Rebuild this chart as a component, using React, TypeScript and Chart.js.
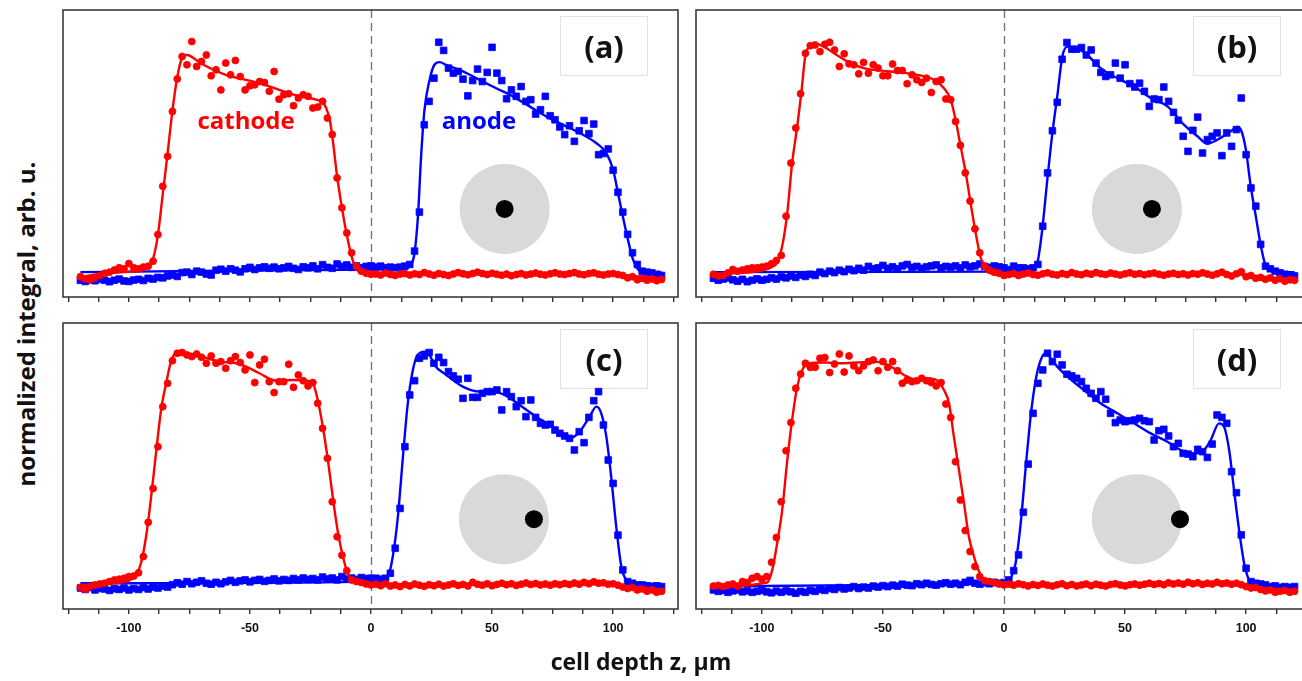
import React, { useEffect, useRef } from "react";
import { Chart, registerables } from "chart.js";
Chart.register(...registerables);

// ---------- data ----------
const Z = [
  -120, -118, -116, -114, -112, -110, -108, -106, -104, -102, -100, -98, -96, -94, -92, -90, -88, -86, -84, -82,
  -80, -78, -76, -74, -72, -70, -68, -66, -64, -62, -60, -58, -56, -54, -52, -50, -48, -46, -44, -42,
  -40, -38, -36, -34, -32, -30, -28, -26, -24, -22, -20, -18, -16, -14, -12, -10, -8, -6, -4, -2,
  0, 2, 4, 6, 8, 10, 12, 14, 16, 18, 20, 22, 24, 26, 28, 30, 32, 34, 36, 38,
  40, 42, 44, 46, 48, 50, 52, 54, 56, 58, 60, 62, 64, 66, 68, 70, 72, 74, 76, 78,
  80, 82, 84, 86, 88, 90, 92, 94, 96, 98, 100, 102, 104, 106, 108, 110, 112, 114, 116, 118, 120,
];

const X_TICKS = [-125, -112.5, -100, -87.5, -75, -62.5, -50, -37.5, -25, -12.5, 0, 12.5, 25, 37.5, 50, 62.5, 75, 87.5, 100, 112.5, 125];
const X_TICK_LABELS = [-100, -50, 0, 50, 100];
const PANEL_LABELS = ["(a)", "(b)", "(c)", "(d)"];

// panel (a)
const CATHODE_A = [
  -0.015, -0.024, -0.029, -0.019, -0.01, -0.001, 0.004, 0.013, 0.022, 0.018,
  0.04, 0.022, 0.018, 0.025, 0.029, 0.05, 0.161, 0.363, 0.488, 0.676,
  0.812, 0.906, 0.871, 0.968, 0.864, 0.885, 0.912, 0.825, 0.85, 0.766,
  0.878, 0.829, 0.889, 0.822, 0.766, 0.783, 0.787, 0.801, 0.797, 0.76,
  0.843, 0.727, 0.746, 0.75, 0.7, 0.732, 0.746, 0.739, 0.69, 0.694,
  0.718, 0.648, 0.579, 0.398, 0.273, 0.168, 0.085, 0.029, 0.008, -0.001,
  -0.005,
  -0.004, -0.008, 0.0, -0.006, -0.01, -0.004, -0.002, -0.008, -0.003, -0.006,
  0.002, -0.004, -0.009, -0.002, -0.006, -0.01, -0.004, 0.002, -0.003, -0.007,
  -0.002, 0.004, -0.002, -0.006, -0.001, -0.005, -0.009, -0.004, -0.011, -0.006,
  -0.002, -0.008, -0.004, 0.0, -0.005, -0.008, -0.003, 0.001, -0.004, -0.006,
  -0.002, 0.002, -0.004, -0.007, -0.002, 0.001, -0.005, -0.008, -0.004, -0.002,
  -0.006, -0.01, -0.02, -0.015, -0.028, -0.022, -0.03, -0.025, -0.032, -0.027,
];
const ANODE_A = [
  -0.03, -0.035, -0.028, -0.032, -0.026, -0.03, -0.036, -0.03, -0.025, -0.033,
  -0.035, -0.029, -0.026, -0.031, -0.022, -0.025, -0.018, -0.02, -0.012, -0.008,
  -0.014, 0.002, 0.004, -0.006, 0.008, 0.004, -0.004, -0.008, 0.012, 0.016,
  0.008, 0.018, 0.012, 0.005, 0.018, 0.024, 0.015, 0.022, 0.026, 0.02,
  0.025, 0.018, 0.022, 0.028, 0.02, 0.015, 0.026, 0.022, 0.03, 0.018,
  0.035, 0.024, 0.02, 0.038, 0.028, 0.034, 0.024, 0.03, 0.022, 0.028,
  0.03, 0.025,
  0.029, 0.022, 0.025, 0.022, 0.025, 0.029, 0.036, 0.092, 0.255, 0.62,
  0.718, 0.815, 0.965, 0.931, 0.857, 0.836, 0.843, 0.811, 0.741, 0.805,
  0.853, 0.801, 0.839, 0.944, 0.836, 0.805, 0.729, 0.766, 0.739, 0.78,
  0.718, 0.725, 0.665, 0.683, 0.739, 0.658, 0.641, 0.611, 0.579, 0.616,
  0.551, 0.595, 0.638, 0.583, 0.623, 0.495, 0.5, 0.519, 0.43, 0.338,
  0.255, 0.162, 0.085, 0.036, 0.008, 0.004, 0.001, -0.005, -0.01,
];
const FIT_CATHODE_A = [
  [-120, -0.015], [-110, -0.002], [-100, 0.005], [-95, 0.01], [-92, 0.025], [-90, 0.06], [-88, 0.16],
  [-86, 0.33], [-84, 0.5], [-82, 0.68], [-80, 0.82], [-78, 0.9], [-76, 0.912], [-70, 0.875], [-60, 0.829],
  [-46, 0.794], [-32, 0.746], [-22.6, 0.725], [-20, 0.715], [-18.5, 0.69], [-17, 0.64], [-15.8, 0.558],
  [-14, 0.405], [-12, 0.273], [-10, 0.16], [-8, 0.07], [-6, 0.015], [-4, 0.0], [0, -0.005], [50, -0.004],
  [100, -0.005], [108, -0.012], [120, -0.022],
];
const FIT_ANODE_A = [
  [-120, 0.004], [-60, 0.01], [0, 0.015], [14, 0.02], [16.6, 0.036], [18, 0.085], [19.4, 0.238], [20.7, 0.488],
  [22.1, 0.683], [24.2, 0.808], [26.2, 0.871], [28.3, 0.882], [31, 0.871], [38, 0.843], [44.8, 0.808],
  [51.7, 0.773], [58.6, 0.739], [65.5, 0.697], [72.4, 0.655], [79.3, 0.62], [86.2, 0.586], [93, 0.544],
  [97.2, 0.502], [100, 0.433], [102, 0.335], [104, 0.238], [106.1, 0.141], [108.2, 0.057], [110.3, 0.015],
  [112.3, 0.004], [120, 0.004],
];

// panel (b)
const CATHODE_B = [
  -0.005, -0.012, -0.01, 0.001, 0.015, 0.008, 0.013, 0.018, 0.022, 0.022,
  0.025, 0.029, 0.039, 0.053, 0.074, 0.238, 0.46, 0.607, 0.75, 0.919,
  0.951, 0.954, 0.926, 0.957, 0.965, 0.933, 0.864, 0.917, 0.875, 0.871,
  0.833, 0.881, 0.836, 0.871, 0.857, 0.825, 0.825, 0.874, 0.847, 0.847,
  0.792, 0.829, 0.808, 0.797, 0.815, 0.755, 0.801, 0.808, 0.728, 0.725,
  0.634, 0.534, 0.419, 0.301, 0.185, 0.085, 0.029, 0.013, 0.004, -0.001,
  -0.01,
  -0.006, -0.002, -0.01, -0.004, 0.0, -0.006, -0.009, -0.003, 0.001, -0.005,
  -0.008, -0.002, -0.006, 0.002, -0.004, -0.007, -0.001, -0.005, 0.002, -0.003,
  -0.006, 0.0, -0.004, -0.008, -0.003, 0.001, -0.005, -0.002, -0.007, -0.003,
  0.0, -0.005, -0.009, -0.004, -0.001, -0.006, -0.003, -0.008, -0.002, -0.005,
  0.001, -0.004, -0.009, -0.003, 0.004, -0.006, -0.012, -0.003, 0.006, -0.015,
  -0.01, -0.022, -0.018, -0.026, -0.02, -0.03, -0.024, -0.034, -0.028, -0.03,
];
const ANODE_B = [
  -0.022, -0.03, -0.025, -0.02, -0.028, -0.034, -0.026, -0.036, -0.03, -0.024,
  -0.03, -0.026, -0.02, -0.025, -0.016, -0.02, -0.012, -0.018, -0.008, -0.014,
  -0.005, -0.01, 0.004, -0.002, 0.008, 0.002, 0.012, 0.006, 0.016, 0.01,
  0.02, 0.012, 0.028, 0.018, 0.022, 0.032, 0.02, 0.026, 0.018, 0.03,
  0.036, 0.024, 0.028, 0.02, 0.026, 0.03, 0.034, 0.022, 0.028, 0.025,
  0.03, 0.022, 0.034, 0.026, 0.03, 0.038, 0.028, 0.024, 0.03, 0.026,
  0.022, 0.015, 0.029, 0.022, 0.022, 0.018, 0.022, 0.036, 0.196, 0.419,
  0.595, 0.714, 0.894, 0.964, 0.936, 0.936, 0.943, 0.912, 0.933, 0.878,
  0.839, 0.822, 0.829, 0.878, 0.815, 0.871, 0.792, 0.778, 0.794, 0.76,
  0.697, 0.728, 0.725, 0.778, 0.718, 0.672, 0.639, 0.572, 0.509, 0.597,
  0.652, 0.502, 0.558, 0.572, 0.586, 0.491, 0.586, 0.53, 0.6, 0.732,
  0.495, 0.356, 0.28, 0.12, 0.029, 0.018, 0.008, 0.001, -0.005, -0.01,
  -0.012,
];
const FIT_CATHODE_B = [
  [-120, -0.005], [-100, 0.01], [-96, 0.025], [-93.7, 0.043], [-91.6, 0.113], [-89.5, 0.252], [-87.5, 0.46],
  [-85.4, 0.613], [-83.7, 0.753], [-82, 0.912], [-80, 0.947], [-77.1, 0.957], [-74.4, 0.947], [-70.2, 0.919],
  [-64.7, 0.885], [-57.9, 0.857], [-46.8, 0.843], [-35.8, 0.829], [-28.9, 0.808], [-24.8, 0.773], [-22, 0.725],
  [-20, 0.641], [-17.9, 0.53], [-15.8, 0.419], [-13.8, 0.294], [-11.7, 0.168], [-9.6, 0.064], [-7.6, 0.015],
  [-5.5, -0.001], [0, -0.008], [60, -0.004], [98, -0.006], [108, -0.02], [120, -0.028],
];
const FIT_ANODE_B = [
  [-120, 0.004], [0, 0.006], [11.7, 0.015], [13.8, 0.043], [15.8, 0.182], [17.9, 0.391], [20, 0.586], [22, 0.739],
  [24.1, 0.906], [26.2, 0.947], [30.3, 0.94], [34.4, 0.912], [39.9, 0.857], [46.8, 0.815], [53.7, 0.78],
  [60.6, 0.732], [67.5, 0.697], [74.4, 0.62], [79.9, 0.572], [84, 0.541], [88.2, 0.558], [93.7, 0.593],
  [96.4, 0.611], [98.1, 0.593], [99.9, 0.516], [101.9, 0.363], [104, 0.238], [106.1, 0.113], [108.1, 0.029],
  [110.2, 0.008], [120, 0.004],
];

// panel (c)
const CATHODE_C = [
  -0.009, -0.017, -0.006, 0.001, 0.005, 0.008, 0.015, 0.022, 0.025, 0.029,
  0.036, 0.038, 0.052, 0.12, 0.264, 0.406, 0.581, 0.749, 0.847, 0.942,
  0.973, 0.976, 0.966, 0.959, 0.97, 0.956, 0.931, 0.962, 0.931, 0.938,
  0.91, 0.942, 0.959, 0.934, 0.903, 0.966, 0.85, 0.924, 0.948, 0.854,
  0.808, 0.854, 0.854, 0.927, 0.83, 0.882, 0.858, 0.836, 0.85, 0.763,
  0.658, 0.532, 0.35, 0.203, 0.126, 0.061, 0.022, 0.015, 0.011, 0.005,
  0.001,
  0.004, -0.002, 0.006, -0.004, 0.001, -0.006, 0.003, -0.003, 0.005, 0.0,
  -0.005, 0.002, -0.002, 0.004, -0.004, 0.001, 0.006, -0.001, 0.003, -0.003,
  0.012, 0.004, 0.0, 0.006, -0.002, 0.003, 0.008, 0.002, 0.006, -0.001,
  0.004, 0.009, 0.003, 0.007, 0.001, 0.005, 0.0, 0.006, 0.002, 0.007,
  0.003, 0.009, 0.004, 0.012, 0.006, 0.014, 0.008, 0.01, 0.004, 0.006,
  0.0, -0.008, -0.014, -0.01, -0.02, -0.016, -0.025, -0.02, -0.03, -0.026,
];
const ANODE_C = [
  -0.012, -0.018, -0.01, -0.02, -0.014, -0.016, -0.022, -0.015, -0.018, -0.012,
  -0.02, -0.014, -0.018, -0.01, -0.016, -0.008, -0.012, -0.004, -0.008, 0.002,
  0.01, 0.004, 0.015, 0.006, 0.012, 0.018, 0.008, 0.004, 0.012, 0.006,
  0.014, 0.02, 0.012, 0.018, 0.022, 0.014, 0.02, 0.024, 0.016, 0.02,
  0.026, 0.018, 0.024, 0.02, 0.028, 0.022, 0.03, 0.024, 0.028, 0.022,
  0.034, 0.026, 0.03, 0.022, 0.036, 0.026, 0.03, 0.024, 0.032, 0.028,
  0.029, 0.029, 0.025, 0.029, 0.05, 0.155, 0.322, 0.581, 0.798, 0.858,
  0.952, 0.962, 0.976, 0.931, 0.956, 0.934, 0.896, 0.878, 0.864, 0.784,
  0.868, 0.788, 0.788, 0.805, 0.812, 0.812, 0.819, 0.735, 0.812, 0.791,
  0.749, 0.774, 0.707, 0.777, 0.704, 0.679, 0.672, 0.675, 0.651, 0.637,
  0.626, 0.616, 0.567, 0.644, 0.598, 0.704, 0.774, 0.812, 0.672, 0.525,
  0.427, 0.21, 0.064, 0.015, 0.008, 0.001, 0.001, -0.003, -0.006, -0.003,
  -0.006,
];
const FIT_CATHODE_C = [
  [-120, 0.001], [-101.2, 0.015], [-97, 0.043], [-95, 0.092], [-92.9, 0.203], [-90.8, 0.371], [-88.8, 0.553],
  [-86.7, 0.735], [-84.6, 0.847], [-82.6, 0.938], [-80.5, 0.973], [-76.4, 0.973], [-70.9, 0.962], [-62.6, 0.938],
  [-55.7, 0.931], [-51.6, 0.917], [-46.1, 0.889], [-39.2, 0.858], [-32.3, 0.861], [-26.8, 0.858], [-24, 0.847],
  [-22, 0.777], [-19.9, 0.665], [-17.8, 0.525], [-15.8, 0.371], [-13.7, 0.224], [-11.6, 0.12], [-9.6, 0.05],
  [-7.5, 0.019], [-4.8, 0.008], [0, 0.001], [60, 0.004], [100, 0.005], [106, -0.005], [120, -0.018],
];
const FIT_ANODE_C = [
  [-120, 0.008], [0, 0.015], [3.5, 0.019], [7, 0.036], [9, 0.12], [11.1, 0.287], [13.2, 0.539], [15.2, 0.763],
  [17.3, 0.903], [19.3, 0.966], [22.1, 0.98], [24.2, 0.966], [26.2, 0.924], [31.1, 0.882], [37.9, 0.833],
  [44.8, 0.812], [50.3, 0.812], [55.9, 0.794], [61.4, 0.756], [68.2, 0.707], [75.1, 0.665], [82, 0.616],
  [86.2, 0.644], [90.3, 0.707], [93.1, 0.749], [95.1, 0.721], [97.2, 0.623], [99.2, 0.455], [101.3, 0.245],
  [103.4, 0.078], [105.4, 0.022], [108.2, 0.008], [120, 0.005],
];

// panel (d)
const CATHODE_D = [
  -0.004, -0.001, -0.006, 0.001, 0.005, -0.004, 0.015, 0.011, 0.029, 0.036,
  0.025, 0.036, 0.096, 0.2, 0.35, 0.564, 0.682, 0.826, 0.886, 0.931,
  0.914, 0.914, 0.952, 0.955, 0.892, 0.928, 0.97, 0.894, 0.962, 0.92,
  0.9, 0.92, 0.938, 0.945, 0.9, 0.938, 0.914, 0.938, 0.9, 0.847,
  0.861, 0.854, 0.858, 0.868, 0.858, 0.85, 0.836, 0.85, 0.76, 0.704,
  0.518, 0.357, 0.229, 0.141, 0.078, 0.036, 0.019, 0.015, 0.011, 0.005,
  0.001,
  0.004, 0.0, 0.006, 0.002, -0.003, 0.003, -0.001, 0.005, 0.0, -0.004,
  0.002, 0.006, -0.002, 0.003, -0.003, 0.001, 0.005, -0.002, 0.004, 0.0,
  -0.004, 0.003, 0.006, 0.001, -0.003, 0.002, 0.005, 0.0, 0.004, 0.008,
  0.003, 0.007, 0.002, 0.01, 0.005, 0.009, 0.004, 0.012, 0.006, 0.01,
  0.003, 0.008, 0.005, 0.012, 0.006, 0.009, 0.004, 0.008, 0.002, -0.006,
  -0.012, -0.01, -0.018, -0.024, -0.02, -0.03, -0.026, -0.022, -0.03, -0.026,
];
const ANODE_D = [
  -0.02, -0.026, -0.022, -0.03, -0.024, -0.02, -0.028, -0.024, -0.03, -0.026,
  -0.022, -0.028, -0.032, -0.025, -0.03, -0.024, -0.028, -0.034, -0.026, -0.03,
  -0.022, -0.026, -0.018, -0.022, -0.014, -0.018, -0.01, -0.016, -0.012, -0.006,
  -0.014, -0.008, -0.012, -0.004, -0.008, -0.002, -0.006, 0.0, -0.004, 0.004,
  0.0, -0.002, 0.006, 0.002, 0.008, 0.003, 0.0, 0.006, 0.01, 0.004,
  0.008, 0.002, 0.012, 0.02, 0.008, 0.004, 0.01, 0.006, 0.012, 0.008,
  0.011, 0.022, 0.061, 0.127, 0.306, 0.508, 0.721, 0.847, 0.903, 0.973,
  0.938, 0.969, 0.924, 0.885, 0.878, 0.868, 0.854, 0.826, 0.805, 0.784,
  0.812, 0.78, 0.721, 0.682, 0.693, 0.686, 0.69, 0.693, 0.7, 0.69,
  0.686, 0.609, 0.648, 0.654, 0.626, 0.581, 0.595, 0.553, 0.55, 0.539,
  0.57, 0.56, 0.536, 0.592, 0.714, 0.704, 0.679, 0.476, 0.388, 0.211,
  0.071, 0.015, 0.008, 0.005, 0.001, -0.006, -0.003, -0.009, -0.006, -0.009,
  -0.006,
];
const FIT_CATHODE_D = [
  [-120, -0.006], [-97.8, 0.011], [-95.7, 0.064], [-93.7, 0.175], [-91.6, 0.315], [-89.5, 0.525], [-87.5, 0.693],
  [-85.4, 0.833], [-83.3, 0.903], [-81.3, 0.928], [-74.4, 0.934], [-67.5, 0.931], [-60.6, 0.934], [-53.7, 0.938],
  [-49.6, 0.931], [-45.5, 0.91], [-41.3, 0.882], [-35.8, 0.861], [-31.7, 0.868], [-27.5, 0.858], [-24.8, 0.819],
  [-22.7, 0.763], [-20.7, 0.623], [-18.6, 0.483], [-16.5, 0.343], [-14.5, 0.203], [-12.4, 0.12], [-10.3, 0.057],
  [-8.3, 0.022], [-5.5, 0.008], [0, 0.001], [60, 0.004], [98, 0.004], [104, -0.01], [120, -0.02],
];
const FIT_ANODE_D = [
  [-120, -0.006], [-60, 0.0], [0, 0.008], [2.8, 0.029], [4.8, 0.092], [6.9, 0.259], [9, 0.497], [11, 0.707],
  [13.1, 0.861], [15.2, 0.945], [17.2, 0.973], [19.3, 0.952], [22, 0.917], [26.2, 0.875], [33, 0.819],
  [39.9, 0.763], [46.8, 0.721], [53.7, 0.679], [60.6, 0.637], [67.5, 0.602], [73, 0.567], [78.5, 0.553],
  [82.6, 0.567], [85.4, 0.609], [88.8, 0.679], [90.9, 0.665], [93, 0.567], [95, 0.4], [97.1, 0.231],
  [99.2, 0.091], [101.2, 0.022], [103.3, 0.001], [120, -0.003],
];

// inset sketch: cell centre and electrode position (data units)
const INSET_CELL_X = [55.2, 54.9, 54.9, 54.9];
const INSET_ELECTRODE_X = [55.2, 61.1, 67.3, 72.7];
const INSET_Y = [0.268, 0.268, 0.277, 0.277];

// ---------- styling / layout ----------
const RED = "#ff0000";
const BLUE = "#0000ff";
const X_MIN = -127.2;
const X_MAX = 126.8;
const PAD_L = 10;
const PAD_R = 10;
const PAD_T = 6;

type Spec = {
  idx: number;
  left: number;
  top: number;
  areaW: number;
  areaH: number;
  axisH: number;
  showLabels: boolean;
  cathode: number[];
  anode: number[];
  fitCathode: number[][];
  fitAnode: number[][];
  texts: { text: string; x: number; y: number; color: string }[];
};

const SPECS: Spec[] = [
  {
    idx: 0, left: 63, top: 10, areaW: 615, areaH: 287, axisH: 14, showLabels: false,
    cathode: CATHODE_A, anode: ANODE_A, fitCathode: FIT_CATHODE_A, fitAnode: FIT_ANODE_A,
    texts: [
      { text: "cathode", x: -51.6, y: 0.632, color: RED },
      { text: "anode", x: 44.6, y: 0.63, color: BLUE },
    ],
  },
  {
    idx: 1, left: 696, top: 10, areaW: 615, areaH: 287, axisH: 14, showLabels: false,
    cathode: CATHODE_B, anode: ANODE_B, fitCathode: FIT_CATHODE_B, fitAnode: FIT_ANODE_B, texts: [],
  },
  {
    idx: 2, left: 63, top: 323, areaW: 615, areaH: 286, axisH: 40, showLabels: true,
    cathode: CATHODE_C, anode: ANODE_C, fitCathode: FIT_CATHODE_C, fitAnode: FIT_ANODE_C, texts: [],
  },
  {
    idx: 3, left: 696, top: 323, areaW: 615, areaH: 286, axisH: 40, showLabels: true,
    cathode: CATHODE_D, anode: ANODE_D, fitCathode: FIT_CATHODE_D, fitAnode: FIT_ANODE_D, texts: [],
  },
];

function decorPlugin(spec: Spec) {
  return {
    id: "decor" + spec.idx,
    beforeDatasetsDraw(chart: any) {
      const { ctx, chartArea } = chart;
      const xs = chart.scales.x;
      const ys = chart.scales.y;
      ctx.save();
      // zero line
      const zx = Math.round(xs.getPixelForValue(0)) + 0.5;
      ctx.strokeStyle = "#6e6e6e";
      ctx.lineWidth = 1.3;
      ctx.setLineDash([8, 5]);
      ctx.beginPath();
      ctx.moveTo(zx, chartArea.top);
      ctx.lineTo(zx, chartArea.bottom);
      ctx.stroke();
      ctx.setLineDash([]);
      // inset sketch
      const cx = xs.getPixelForValue(INSET_CELL_X[spec.idx]);
      const cy = ys.getPixelForValue(INSET_Y[spec.idx]);
      ctx.fillStyle = "#d9d9d9";
      ctx.beginPath();
      ctx.arc(cx, cy, 45, 0, Math.PI * 2);
      ctx.fill();
      const ex = xs.getPixelForValue(INSET_ELECTRODE_X[spec.idx]);
      ctx.fillStyle = "#000";
      ctx.beginPath();
      ctx.arc(ex, cy, 9, 0, Math.PI * 2);
      ctx.fill();
      // label box
      const bx0 = Math.round(xs.getPixelForValue(78)) + 0.5;
      const bx1 = Math.round(xs.getPixelForValue(114)) + 0.5;
      const by0 = Math.round(ys.getPixelForValue(1.074)) + 0.5;
      const by1 = Math.round(ys.getPixelForValue(0.828)) + 0.5;
      ctx.fillStyle = "#fff";
      ctx.fillRect(bx0, by0, bx1 - bx0, by1 - by0);
      ctx.strokeStyle = "#e2e2e2";
      ctx.lineWidth = 1;
      ctx.strokeRect(bx0, by0, bx1 - bx0, by1 - by0);
      ctx.fillStyle = "#111";
      ctx.font = '700 31px "Open Sans"';
      ctx.textAlign = "center";
      ctx.textBaseline = "middle";
      ctx.fillText(PANEL_LABELS[spec.idx], (bx0 + bx1) / 2, (by0 + by1) / 2 + 3);
      // series names
      ctx.font = '700 24px "Open Sans"';
      for (const t of spec.texts) {
        ctx.fillStyle = t.color;
        ctx.fillText(t.text, xs.getPixelForValue(t.x), ys.getPixelForValue(t.y));
      }
      ctx.restore();
    },
    afterDraw(chart: any) {
      const { ctx, chartArea } = chart;
      ctx.save();
      ctx.strokeStyle = "#3a3a3a";
      ctx.lineWidth = 1.6;
      ctx.strokeRect(chartArea.left, chartArea.top, chartArea.right - chartArea.left, chartArea.bottom - chartArea.top);
      ctx.restore();
    },
  };
}

function Panel({ spec }: { spec: Spec }) {
  const ref = useRef<HTMLCanvasElement>(null);
  const W = spec.areaW + PAD_L + PAD_R;
  const H = spec.areaH + PAD_T + spec.axisH;
  useEffect(() => {
    const canvas = ref.current;
    if (!canvas) return;
    const pts = (vals: number[]) => vals.map((v, i) => ({ x: Z[i], y: v }));
    const fit = (f: number[][]) => f.map((p) => ({ x: p[0], y: p[1] }));
    const chart = new Chart(canvas, {
      type: "scatter",
      data: {
        datasets: [
          {
            data: fit(spec.fitCathode), showLine: true, borderColor: RED, borderWidth: 2.4,
            pointRadius: 0, pointHoverRadius: 0, cubicInterpolationMode: "monotone", fill: false,
          } as any,
          {
            data: pts(spec.cathode), pointStyle: "circle", pointRadius: 3.5, pointBorderWidth: 0.8,
            backgroundColor: RED, borderColor: RED, showLine: false,
          } as any,
          {
            data: fit(spec.fitAnode), showLine: true, borderColor: BLUE, borderWidth: 2.4,
            pointRadius: 0, pointHoverRadius: 0, cubicInterpolationMode: "monotone", fill: false,
          } as any,
          {
            data: pts(spec.anode), pointStyle: "rect", pointRadius: 4.7, pointBorderWidth: 0.8,
            backgroundColor: BLUE, borderColor: BLUE, showLine: false,
          } as any,
        ],
      },
      options: {
        responsive: false,
        animation: false,
        devicePixelRatio: 1,
        events: [],
        layout: { padding: { left: PAD_L, right: PAD_R, top: PAD_T, bottom: 0 } },
        plugins: { legend: { display: false }, tooltip: { enabled: false } },
        scales: {
          x: {
            type: "linear",
            min: X_MIN,
            max: X_MAX,
            afterBuildTicks: (axis: any) => {
              axis.ticks = X_TICKS.map((value) => ({ value }));
            },
            afterFit: (axis: any) => {
              axis.height = spec.axisH;
            },
            ticks: {
              autoSkip: false,
              maxRotation: 0,
              padding: 7,
              color: "#111",
              font: { family: '"Liberation Sans", Arial, sans-serif', weight: "bold", size: 12.5 },
              callback: (v: any) => (spec.showLabels && X_TICK_LABELS.includes(Number(v)) ? String(v) : ""),
            },
            grid: { drawOnChartArea: false, drawTicks: true, tickLength: 5, color: "#333", lineWidth: 1.4 },
            border: { display: false },
          },
          y: { display: false, min: -0.1, max: 1.1 },
        },
      } as any,
      plugins: [decorPlugin(spec)],
    });
    return () => chart.destroy();
  }, [spec]);
  return (
    <canvas
      ref={ref}
      width={W}
      height={H}
      style={{ position: "absolute", left: spec.left - PAD_L, top: spec.top - PAD_T, width: W, height: H }}
    />
  );
}

export default function App() {
  return (
    <div
      style={{
        position: "fixed", left: 0, top: 0, width: 1302, height: 681, overflow: "hidden", background: "#fff",
      }}
    >
      {SPECS.map((s) => (
        <Panel key={s.idx} spec={s} />
      ))}
      <div
        style={{
          position: "absolute", left: 25, top: 324, transform: "translate(-50%, -50%) rotate(-90deg)",
          font: '700 24px "Open Sans"', whiteSpace: "nowrap", color: "#111",
        }}
      >
        normalized integral, arb. u.
      </div>
      <div
        style={{
          position: "absolute", left: 641, top: 661, transform: "translate(-50%, -50%)",
          font: '700 23px "Open Sans"', whiteSpace: "nowrap", color: "#111",
        }}
      >
        cell depth z, μm
      </div>
    </div>
  );
}
